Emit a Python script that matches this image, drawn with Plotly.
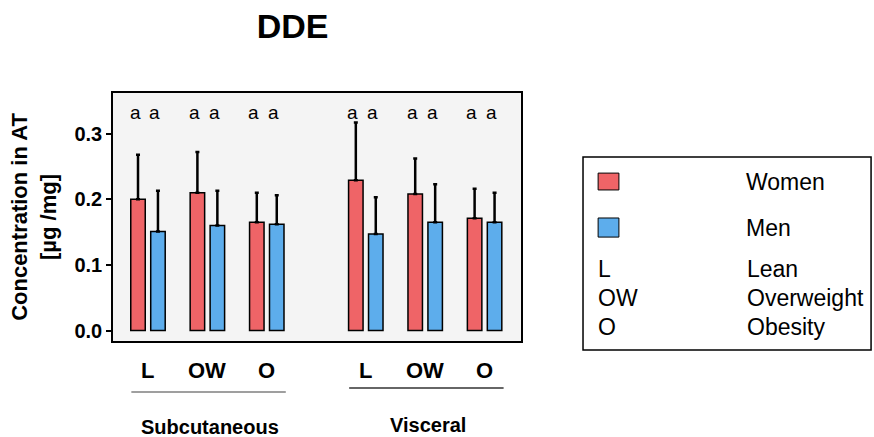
import plotly.graph_objects as go

# ---- data ----
sites = ["Subcutaneous", "Visceral"]
classes = ["L", "OW", "O"]
women_mean = [0.200, 0.210, 0.165, 0.229, 0.208, 0.171]
women_err = [0.068, 0.062, 0.045, 0.088, 0.054, 0.045]
men_mean = [0.151, 0.160, 0.162, 0.147, 0.165, 0.165]
men_err = [0.062, 0.053, 0.044, 0.056, 0.058, 0.045]
women_letters = ["a", "a", "a", "a", "a", "a"]
men_letters = ["a", "a", "a", "a", "a", "a"]
letter_y = 0.332
legend_items = [("L", "Lean"), ("OW", "Overweight"), ("O", "Obesity")]

# ---- layout constants ----
GROUP_GAP = 3.667
BAR_OFFSET = 0.168
FONT = "Liberation Sans, Arial, sans-serif"
RED = "#EF6467"
BLUE = "#5DADEC"

xpos = [gi * GROUP_GAP + ci for gi in range(len(sites)) for ci in range(len(classes))]

fig = go.Figure()
for name, vals, errs, col in [("Women", women_mean, women_err, RED),
                              ("Men", men_mean, men_err, BLUE)]:
    fig.add_trace(go.Bar(
        x=xpos, y=vals, name=name, showlegend=False,
        marker=dict(color=col, line=dict(color="black", width=1.5)),
        error_y=dict(type="data", symmetric=False, array=errs,
                     arrayminus=[0] * len(errs), color="black",
                     thickness=2.5, width=2),
    ))

ann = []
shapes = []
# significance letters
for x, tw, tm in zip(xpos, women_letters, men_letters):
    for xx, t in [(x - BAR_OFFSET, tw), (x + BAR_OFFSET, tm)]:
        ann.append(dict(x=xx, y=letter_y, xref="x", yref="y", text=t, showarrow=False,
                        xshift=-3, font=dict(size=19, color="black", family=FONT)))
# class labels below axis
for gi in range(len(sites)):
    for ci, c in enumerate(classes):
        ann.append(dict(x=gi * GROUP_GAP + ci, y=-0.117, xref="x", yref="paper",
                        text="<b>%s</b>" % c, showarrow=False, yanchor="middle",
                        font=dict(size=22, color="black", family=FONT)))
# group lines and labels
line_cols = ["#7f7f7f", "#333333"]
line_ys = [-0.2056, -0.1895]
lab_ys = [-0.347, -0.339]
for gi, site in enumerate(sites):
    x0 = gi * GROUP_GAP - 0.28
    x1 = gi * GROUP_GAP + len(classes) - 1 + 0.32
    shapes.append(dict(type="line", xref="x", yref="paper", x0=x0, x1=x1,
                       y0=line_ys[gi], y1=line_ys[gi],
                       line=dict(color=line_cols[gi], width=1.5)))
    ann.append(dict(x=gi * GROUP_GAP + (len(classes) - 1) / 2 + 0.05, y=lab_ys[gi],
                    xref="x", yref="paper", text="<b>%s</b>" % site, showarrow=False,
                    yanchor="middle", font=dict(size=20, color="black", family=FONT)))

# custom legend box
shapes.append(dict(type="rect", xref="paper", yref="paper", x0=1.152, x1=1.858,
                   y0=-0.036, y1=0.742, line=dict(color="black", width=1.5),
                   fillcolor="white"))
for (yy0, yy1, col) in [(0.609, 0.677, RED), (0.419, 0.496, BLUE)]:
    shapes.append(dict(type="rect", xref="paper", yref="paper", x0=1.189, x1=1.240,
                       y0=yy0, y1=yy1, line=dict(color="black", width=1), fillcolor=col))
for txt, yy in [("Women", 0.641), ("Men", 0.456)]:
    ann.append(dict(x=1.546, y=yy, xref="paper", yref="paper", text=txt, showarrow=False,
                    xanchor="left", yanchor="middle",
                    font=dict(size=23, color="black", family=FONT)))
for (abbr, full), yy in zip(legend_items, [0.290, 0.173, 0.056]):
    ann.append(dict(x=1.184, y=yy, xref="paper", yref="paper", text=abbr, showarrow=False,
                    xanchor="left", yanchor="middle",
                    font=dict(size=23, color="black", family=FONT)))
    ann.append(dict(x=1.550, y=yy, xref="paper", yref="paper", text=full, showarrow=False,
                    xanchor="left", yanchor="middle",
                    font=dict(size=23, color="black", family=FONT)))

fig.update_layout(
    width=874, height=437,
    margin=dict(l=113, r=353, t=93, b=96),
    paper_bgcolor="white", plot_bgcolor="#F4F4F4",
    barmode="group", bargap=0.328, bargroupgap=0.274,
    font=dict(family=FONT, color="black"),
    title=dict(text="<b>DDE</b>", x=0.3347, xanchor="center", y=0.9405, yanchor="middle",
               font=dict(size=34, color="black", family=FONT)),
    xaxis=dict(range=[-0.589, 6.28], showticklabels=False, ticks="", showgrid=False,
               zeroline=False, showline=True, linecolor="black", linewidth=1.5, mirror=True),
    yaxis=dict(range=[-0.016, 0.362], tickvals=[0, 0.1, 0.2, 0.3], tickformat=".1f",
               ticks="outside", ticklen=5, tickwidth=1.5, tickcolor="black",
               tickfont=dict(size=20, color="black", family=FONT, weight="bold"),
               showgrid=False, zeroline=False, showline=True, linecolor="black",
               linewidth=1.5, mirror=True,
               title=dict(text="Concentration in AT<br>[µg /mg]", standoff=12,
                          font=dict(size=22, color="black", family=FONT, weight="bold"))),
    annotations=ann, shapes=shapes,
)

fig.write_html("out.html")
